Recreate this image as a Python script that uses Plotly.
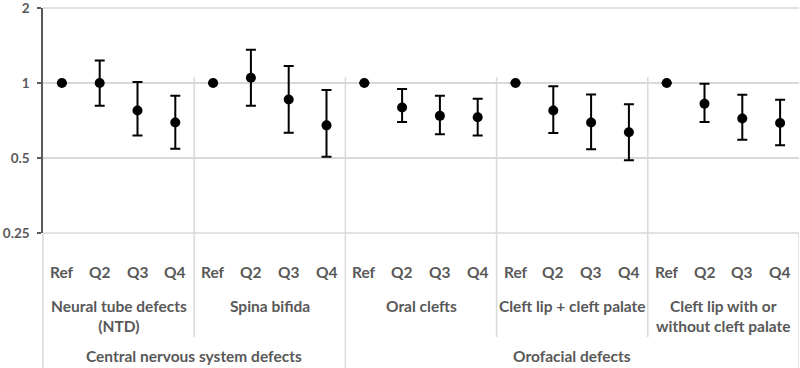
import plotly.graph_objects as go
import math

# ---- data ----
quartiles = ["Ref", "Q2", "Q3", "Q4"]
groups = ["Neural tube defects<br>(NTD)", "Spina bifida", "Oral clefts",
          "Cleft lip + cleft palate", "Cleft lip with or<br>without cleft palate"]
outer_groups = ["Central nervous system defects", "Orofacial defects"]
outer_span = [2, 3]  # number of groups in each outer group

or_ntd = [1.0, 1.0, 0.775, 0.694]
or_sb = [1.0, 1.05, 0.859, 0.676]
or_oc = [1.0, 0.798, 0.738, 0.729]
or_clcp = [1.0, 0.775, 0.694, 0.634]
or_clwo = [1.0, 0.825, 0.72, 0.691]

lo_ntd = [None, 0.81, 0.616, 0.545]
lo_sb = [None, 0.81, 0.632, 0.506]
lo_oc = [None, 0.698, 0.622, 0.615]
lo_clcp = [None, 0.63, 0.542, 0.49]
lo_clwo = [None, 0.698, 0.592, 0.563]

hi_ntd = [None, 1.23, 1.01, 0.889]
hi_sb = [None, 1.36, 1.17, 0.937]
hi_oc = [None, 0.946, 0.889, 0.864]
hi_clcp = [None, 0.97, 0.90, 0.822]
hi_clwo = [None, 0.994, 0.897, 0.856]

y_ticks = [0.25, 0.5, 1, 2]
y_ticktext = ["0.25", "0.5", "1", "2"]

values = or_ntd + or_sb + or_oc + or_clcp + or_clwo
lows = lo_ntd + lo_sb + lo_oc + lo_clcp + lo_clwo
highs = hi_ntd + hi_sb + hi_oc + hi_clcp + hi_clwo

n = len(values)
xs = list(range(n))
err_plus = [None if h is None else h - v for h, v in zip(highs, values)]
err_minus = [None if l is None else v - l for l, v in zip(lows, values)]

# ---- layout geometry ----
W, H = 800, 368
top, bottom = 8, 233
ph = bottom - top


def py(p):
    return (bottom - p) / ph


font = "Lato"
fw = "bold"
txt = "#595959"
grid = "#d9d9d9"
fsize = 15.5

fig = go.Figure()
fig.add_trace(go.Scatter(
    x=xs, y=values, mode="markers",
    marker=dict(color="black", size=10),
    error_y=dict(type="data", symmetric=False, array=err_plus, arrayminus=err_minus,
                 color="black", thickness=2, width=5),
    showlegend=False, hoverinfo="y",
))

shapes = []
ng = len(groups)
for g in range(1, ng + 1):
    xb = g * 4 - 0.5
    if g == ng:
        shapes.append(dict(type="line", xref="x", yref="paper", x0=xb, x1=xb,
                           y0=0, y1=py(H), line=dict(color=grid, width=1.5)))
        continue
    outer_boundary = (g == outer_span[0])
    y_end = py(H) if outer_boundary else py(337)
    shapes.append(dict(type="line", xref="x", yref="paper", x0=xb, x1=xb,
                       y0=py(77), y1=y_end, line=dict(color=grid, width=1.5)))
shapes.append(dict(type="line", xref="paper", yref="paper", x0=0, x1=0,
                   y0=0, y1=py(H), line=dict(color=grid, width=1.5)))
shapes.append(dict(type="line", xref="paper", yref="paper", x0=0, x1=1,
                   y0=0, y1=0, line=dict(color=grid, width=1.5)))
shapes.append(dict(type="line", xref="paper", yref="paper", x0=0, x1=1,
                   y0=1, y1=1, line=dict(color=grid, width=1.5)))

tf = dict(family=font, size=fsize, color=txt, weight=fw)
annotations = []
for i in range(n):
    annotations.append(dict(x=i, y=py(272), xref="x", yref="paper", text=quartiles[i % 4],
                            showarrow=False, yanchor="middle", font=tf))
for g, name in enumerate(groups):
    annotations.append(dict(x=g * 4 + 1.5, y=py(295), xref="x", yref="paper", text=name,
                            showarrow=False, yanchor="top", font=tf))
start = 0
for name, span in zip(outer_groups, outer_span):
    c = start * 4 + span * 2 - 0.5
    annotations.append(dict(x=c, y=py(356), xref="x", yref="paper", text=name,
                            showarrow=False, yanchor="middle", font=tf))
    start += span

fig.update_layout(
    width=W, height=H,
    margin=dict(l=43, r=1, t=top, b=H - bottom, autoexpand=False),
    plot_bgcolor="white", paper_bgcolor="white",
    shapes=shapes, annotations=annotations,
    xaxis=dict(range=[-0.5, n - 0.5], showgrid=False, zeroline=False,
               showticklabels=False, ticks="", showline=False, fixedrange=True),
    yaxis=dict(type="log", range=[math.log10(0.25) - 1e-4, math.log10(2) + 1e-4],
               tickvals=y_ticks, ticktext=y_ticktext,
               showgrid=True, gridcolor=grid, gridwidth=1.5,
               showline=True, linecolor="#595959", linewidth=1.5,
               ticks="outside", ticklen=4, tickcolor="#595959", tickwidth=1.5,
               ticklabelstandoff=5, automargin=False, ticklabeloverflow="allow",
               tickfont=dict(family=font, size=13.5, color=txt, weight=fw), fixedrange=True),
)

fig.write_html("out.html", post_script="document.body.style.margin='0';",
               config={"displayModeBar": False})
